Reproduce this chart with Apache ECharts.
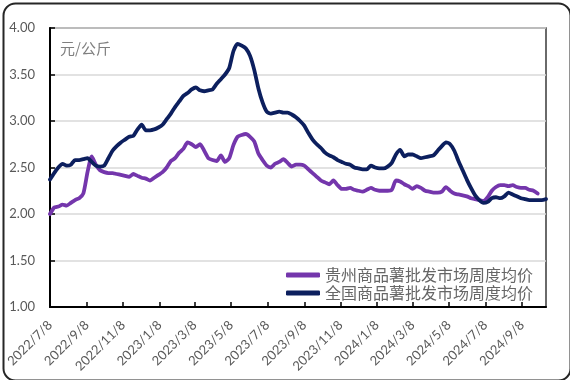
<!DOCTYPE html>
<html>
<head>
<meta charset="utf-8">
<script src="https://cdn.jsdelivr.net/npm/echarts@6/dist/echarts.min.js"></script>
<style>
html,body{margin:0;padding:0;background:#fff;}
#c{width:570px;height:380px;}
</style>
</head>
<body>
<div id="c"></div>
<script>
// Weekly series start date and tick labels
var startDate = [2022, 7, 8];
var tickLabels = ['2022/7/8','2022/9/8','2022/11/8','2023/1/8','2023/3/8','2023/5/8','2023/7/8','2023/9/8','2023/11/8','2024/1/8','2024/3/8','2024/5/8','2024/7/8','2024/9/8'];
var seriesNames = ['贵州商品薯批发市场周度均价', '全国商品薯批发市场周度均价'];
var unitLabel = '元/公斤';

var guizhou = [2.00,2.07,2.08,2.10,2.09,2.12,2.15,2.17,2.22,2.45,
2.62,2.53,2.47,2.45,2.44,2.44,2.43,2.42,2.41,2.40,
2.43,2.41,2.39,2.38,2.36,2.39,2.42,2.45,2.50,2.57,
2.60,2.66,2.70,2.77,2.75,2.72,2.75,2.68,2.60,2.58,
2.57,2.63,2.56,2.60,2.74,2.83,2.85,2.86,2.83,2.78,
2.65,2.58,2.52,2.50,2.54,2.56,2.59,2.55,2.51,2.53,
2.53,2.52,2.48,2.44,2.40,2.36,2.34,2.32,2.36,2.31,
2.27,2.27,2.28,2.26,2.25,2.24,2.26,2.28,2.26,2.25,
2.25,2.25,2.26,2.36,2.35,2.32,2.30,2.27,2.30,2.28,
2.25,2.24,2.23,2.23,2.24,2.29,2.25,2.22,2.21,2.20,
2.19,2.17,2.16,2.15,2.14,2.18,2.25,2.29,2.31,2.31,
2.30,2.31,2.29,2.28,2.28,2.26,2.25,2.22];

var national = [2.37,2.44,2.50,2.54,2.52,2.53,2.58,2.58,2.59,2.60,
2.56,2.52,2.51,2.52,2.60,2.68,2.73,2.77,2.80,2.83,
2.84,2.91,2.96,2.90,2.90,2.91,2.93,2.96,3.02,3.08,
3.15,3.21,3.27,3.30,3.34,3.36,3.33,3.32,3.33,3.34,
3.40,3.45,3.50,3.57,3.75,3.83,3.81,3.78,3.70,3.55,
3.35,3.20,3.10,3.08,3.09,3.10,3.09,3.09,3.07,3.04,
3.00,2.95,2.87,2.80,2.75,2.71,2.66,2.63,2.61,2.58,
2.56,2.54,2.53,2.50,2.49,2.48,2.48,2.52,2.50,2.49,
2.49,2.51,2.55,2.64,2.69,2.62,2.64,2.64,2.62,2.60,
2.61,2.62,2.63,2.68,2.73,2.77,2.75,2.68,2.57,2.47,
2.37,2.28,2.20,2.15,2.12,2.13,2.17,2.18,2.17,2.19,
2.23,2.21,2.19,2.17,2.16,2.15,2.15,2.15,2.15,2.16];

var DAY = 86400000;
var t0 = Date.UTC(startDate[0], startDate[1]-1, startDate[2]);
function toPairs(arr){ return arr.map(function(v,i){ return [7*i, v]; }); }
function parseLabel(s){ var p = s.split('/'); return Math.round((Date.UTC(+p[0], +p[1]-1, +p[2]) - t0)/DAY); }
var tickValues = tickLabels.map(parseLabel);
var xMax = 7*(national.length-1);

var chart = echarts.init(document.getElementById('c'), null, {renderer:'canvas'});
var FONT = 'Lato, "Liberation Sans", sans-serif';
chart.setOption({
  backgroundColor:'#ffffff',
  animation:false,
  grid:{left:50, right:24, top:28, bottom:73, show:true, borderColor:'#3a3a3a', borderWidth:1.5},
  graphic:[
    {type:'rect', left:1, top:1, shape:{x:0,y:0,width:567,height:377,r:12}, style:{fill:'none', stroke:'#262626', lineWidth:2}, z:-1},
    {type:'text', left:60, top:41, style:{text:unitLabel, fill:'#7f7f7f', font:'15px "Noto Sans CJK SC", sans-serif'}}
  ],
  xAxis:{
    type:'value', min:0, max:xMax,
    axisLine:{show:true, lineStyle:{color:'#000', width:2}},
    axisTick:{show:true, inside:true, length:5, lineStyle:{color:'#000', width:1.5}, customValues:tickValues},
    axisLabel:{show:true, rotate:45, margin:16, color:'#595959', fontFamily:FONT, fontSize:13,
      customValues:tickValues, hideOverlap:false, showMinLabel:true,
      formatter:function(v){ var d=new Date(t0 + v*DAY); return d.getUTCFullYear()+'/'+(d.getUTCMonth()+1)+'/'+d.getUTCDate(); }},
    splitLine:{show:false}
  },
  yAxis:{
    type:'value', min:1, max:4, interval:0.5,
    axisLine:{show:true, lineStyle:{color:'#000', width:2}},
    axisTick:{show:true, inside:true, length:5, lineStyle:{color:'#000', width:1.5}},
    axisLabel:{color:'#595959', fontFamily:FONT, fontSize:13, margin:15, formatter:function(v){return v.toFixed(2);}},
    splitLine:{show:true, lineStyle:{color:'#d9d9d9', width:1.5}}
  },
  legend:{
    orient:'vertical', right:32, top:262, itemWidth:34, itemHeight:5, itemGap:2,
    icon:'roundRect',
    textStyle:{color:'#666666', fontSize:16, fontFamily:'"Noto Sans CJK SC", sans-serif', lineHeight:16},
    data:seriesNames
  },
  series:[
    {name:seriesNames[0], type:'line', data:toPairs(guizhou), symbol:'none', smooth:0.2,
      lineStyle:{color:'#7436ac', width:3.8, join:'round', cap:'round'}, itemStyle:{color:'#7436ac'}},
    {name:seriesNames[1], type:'line', data:toPairs(national), symbol:'none', smooth:0.2,
      lineStyle:{color:'#0c1f5e', width:3.8, join:'round', cap:'round'}, itemStyle:{color:'#0c1f5e'}}
  ]
});
</script>
</body>
</html>
